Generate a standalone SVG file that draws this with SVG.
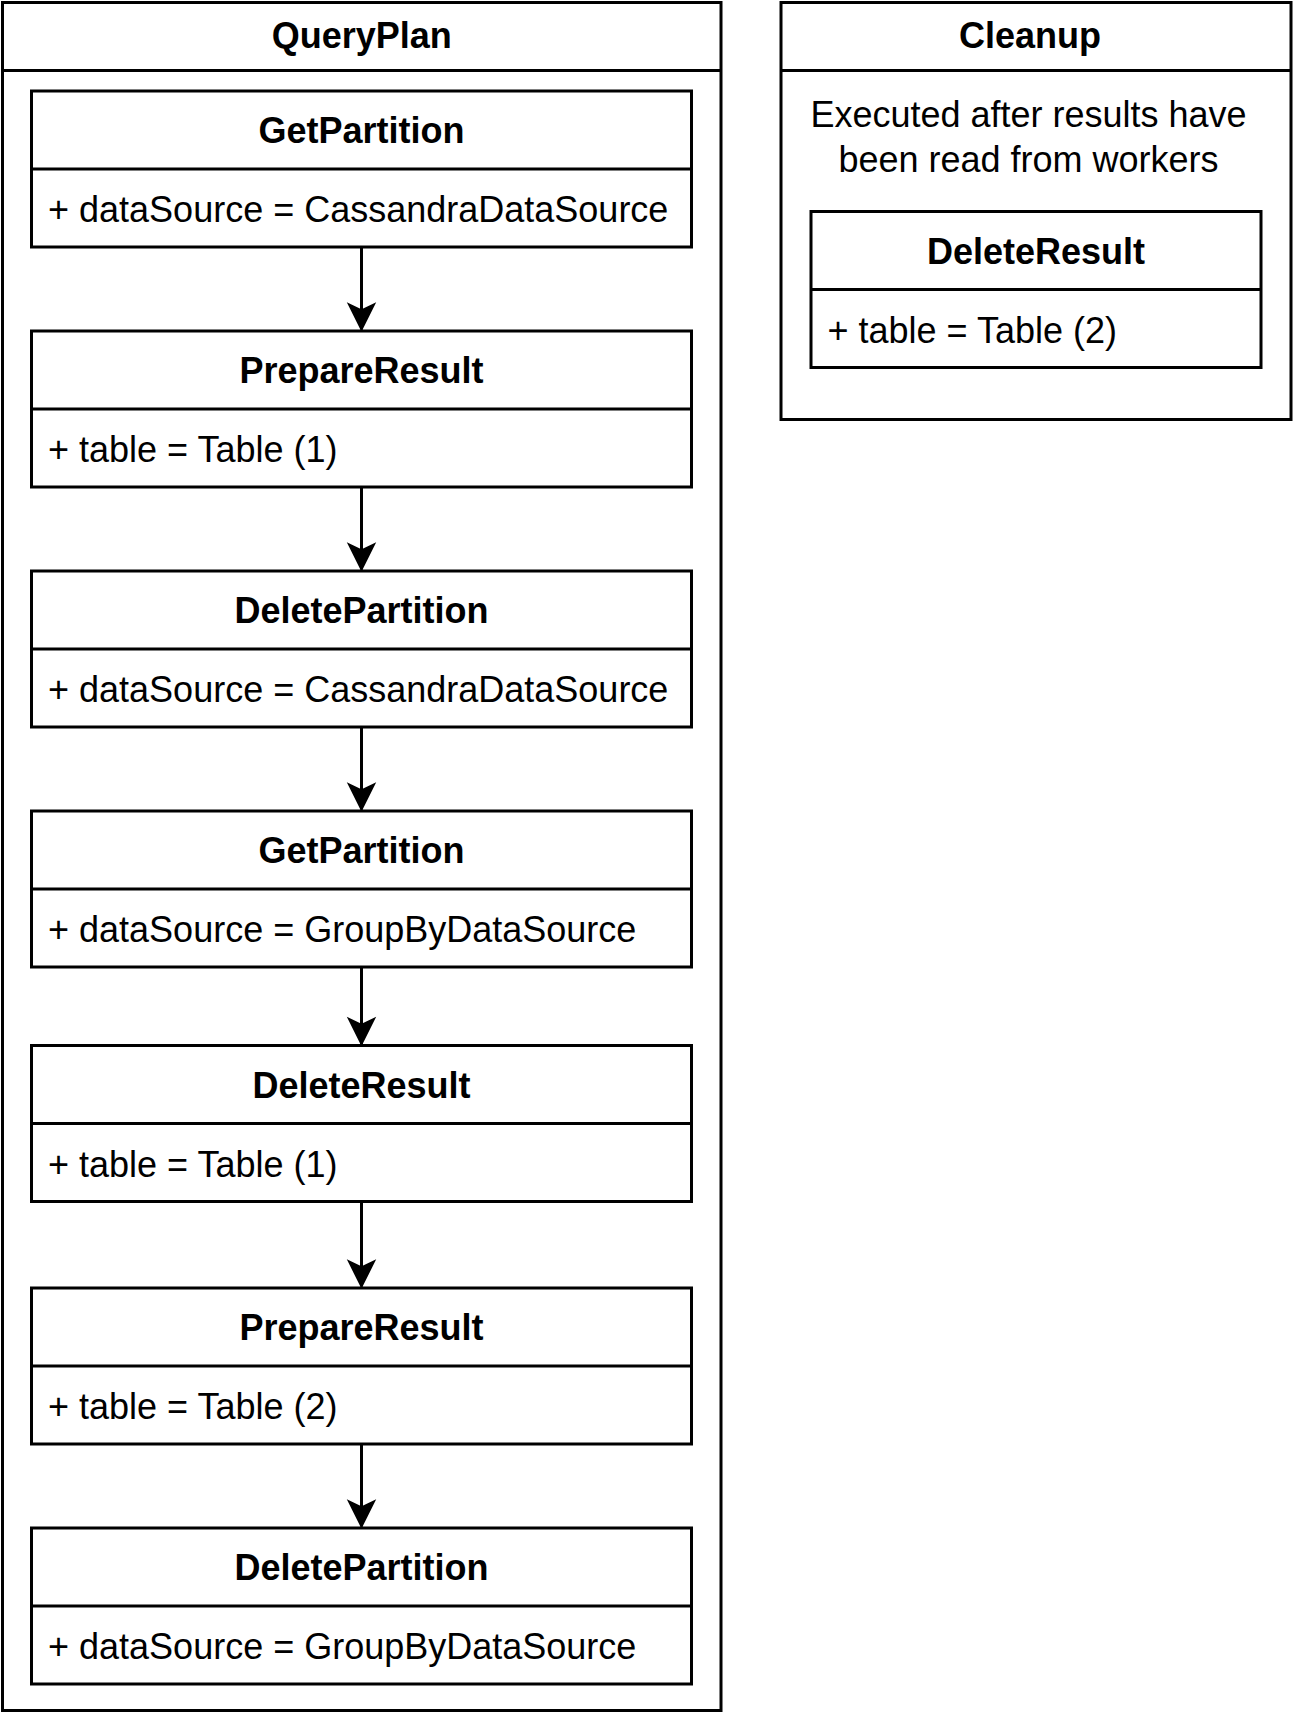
<svg xmlns="http://www.w3.org/2000/svg" width="1293" height="1713" viewBox="0 0 1293 1713">
  <style>
    .box { fill: #ffffff; stroke: #000000; stroke-width: 3; }
    .sep { stroke: #000000; stroke-width: 3; fill: none; }
    .title { font-family: "Liberation Sans", Arial, sans-serif; font-size: 36px; font-weight: bold; text-anchor: middle; fill: #000000; }
    .attr { font-family: "Liberation Sans", Arial, sans-serif; font-size: 36px; fill: #000000; }
    .desc { font-family: "Liberation Sans", Arial, sans-serif; font-size: 36px; fill: #000000; text-anchor: middle; }
    .edge { stroke: #000000; stroke-width: 3; fill: none; }
  </style>
  <defs>
    <marker id="arrow" markerUnits="userSpaceOnUse" markerWidth="30" markerHeight="30" viewBox="-15 -27 30 30" refX="0" refY="0" orient="auto-start-reverse" overflow="visible">
      <path d="M0,0 L-12.5,-25 L0,-19 L12.5,-25 Z" fill="#000000" stroke="#000000" stroke-width="2" transform="rotate(-90)"/>
    </marker>
  </defs>
  <rect x="0" y="0" width="1293" height="1713" fill="#ffffff"/>

  <g id="QueryPlan">
    <rect class="box" x="2.5" y="2.5" width="718.5" height="1708"/>
    <line class="sep" x1="2.5" y1="70.5" x2="721" y2="70.5"/>
    <text class="title" x="361.75" y="47.5">QueryPlan</text>
  </g>

  <g id="Cleanup">
    <rect class="box" x="781" y="2.5" width="510" height="417"/>
    <line class="sep" x1="781" y1="70.5" x2="1291" y2="70.5"/>
    <text class="title" x="1030" y="47.5">Cleanup</text>
    <text class="desc" x="1028.5" y="126.5">Executed after results have</text>
    <text class="desc" x="1028.5" y="171.5">been read from workers</text>
  </g>

  <g id="GetPartition1">
    <rect class="box" x="31.5" y="91" width="660" height="156"/>
    <line class="sep" x1="31.5" y1="169" x2="691.5" y2="169"/>
    <text class="title" x="361.5" y="143">GetPartition</text>
    <text class="attr" x="48" y="222">+ dataSource = CassandraDataSource</text>
  </g>

  <g id="PrepareResult1">
    <rect class="box" x="31.5" y="331" width="660" height="156"/>
    <line class="sep" x1="31.5" y1="409" x2="691.5" y2="409"/>
    <text class="title" x="361.5" y="383">PrepareResult</text>
    <text class="attr" x="48" y="462">+ table = Table (1)</text>
  </g>

  <g id="DeletePartition1">
    <rect class="box" x="31.5" y="571" width="660" height="156"/>
    <line class="sep" x1="31.5" y1="649" x2="691.5" y2="649"/>
    <text class="title" x="361.5" y="623">DeletePartition</text>
    <text class="attr" x="48" y="702">+ dataSource = CassandraDataSource</text>
  </g>

  <g id="GetPartition2">
    <rect class="box" x="31.5" y="811" width="660" height="156"/>
    <line class="sep" x1="31.5" y1="889" x2="691.5" y2="889"/>
    <text class="title" x="361.5" y="863">GetPartition</text>
    <text class="attr" x="48" y="942">+ dataSource = GroupByDataSource</text>
  </g>

  <g id="DeleteResult1">
    <rect class="box" x="31.5" y="1045.5" width="660" height="156"/>
    <line class="sep" x1="31.5" y1="1123.5" x2="691.5" y2="1123.5"/>
    <text class="title" x="361.5" y="1097.5">DeleteResult</text>
    <text class="attr" x="48" y="1176.5">+ table = Table (1)</text>
  </g>

  <g id="PrepareResult2">
    <rect class="box" x="31.5" y="1288" width="660" height="156"/>
    <line class="sep" x1="31.5" y1="1366" x2="691.5" y2="1366"/>
    <text class="title" x="361.5" y="1340">PrepareResult</text>
    <text class="attr" x="48" y="1419">+ table = Table (2)</text>
  </g>

  <g id="DeletePartition2">
    <rect class="box" x="31.5" y="1528" width="660" height="156"/>
    <line class="sep" x1="31.5" y1="1606" x2="691.5" y2="1606"/>
    <text class="title" x="361.5" y="1580">DeletePartition</text>
    <text class="attr" x="48" y="1659">+ dataSource = GroupByDataSource</text>
  </g>

  <g id="DeleteResult2">
    <rect class="box" x="811" y="211.5" width="450" height="156"/>
    <line class="sep" x1="811" y1="289.5" x2="1261" y2="289.5"/>
    <text class="title" x="1036" y="263.5">DeleteResult</text>
    <text class="attr" x="827.5" y="343">+ table = Table (2)</text>
  </g>

  <g id="connectors">
    <line class="edge" x1="361.5" y1="247" x2="361.5" y2="329.5" marker-end="url(#arrow)"/>
    <line class="edge" x1="361.5" y1="487" x2="361.5" y2="569.5" marker-end="url(#arrow)"/>
    <line class="edge" x1="361.5" y1="727" x2="361.5" y2="809.5" marker-end="url(#arrow)"/>
    <line class="edge" x1="361.5" y1="967" x2="361.5" y2="1044" marker-end="url(#arrow)"/>
    <line class="edge" x1="361.5" y1="1201.5" x2="361.5" y2="1286.5" marker-end="url(#arrow)"/>
    <line class="edge" x1="361.5" y1="1444" x2="361.5" y2="1526.5" marker-end="url(#arrow)"/>
  </g>
</svg>
